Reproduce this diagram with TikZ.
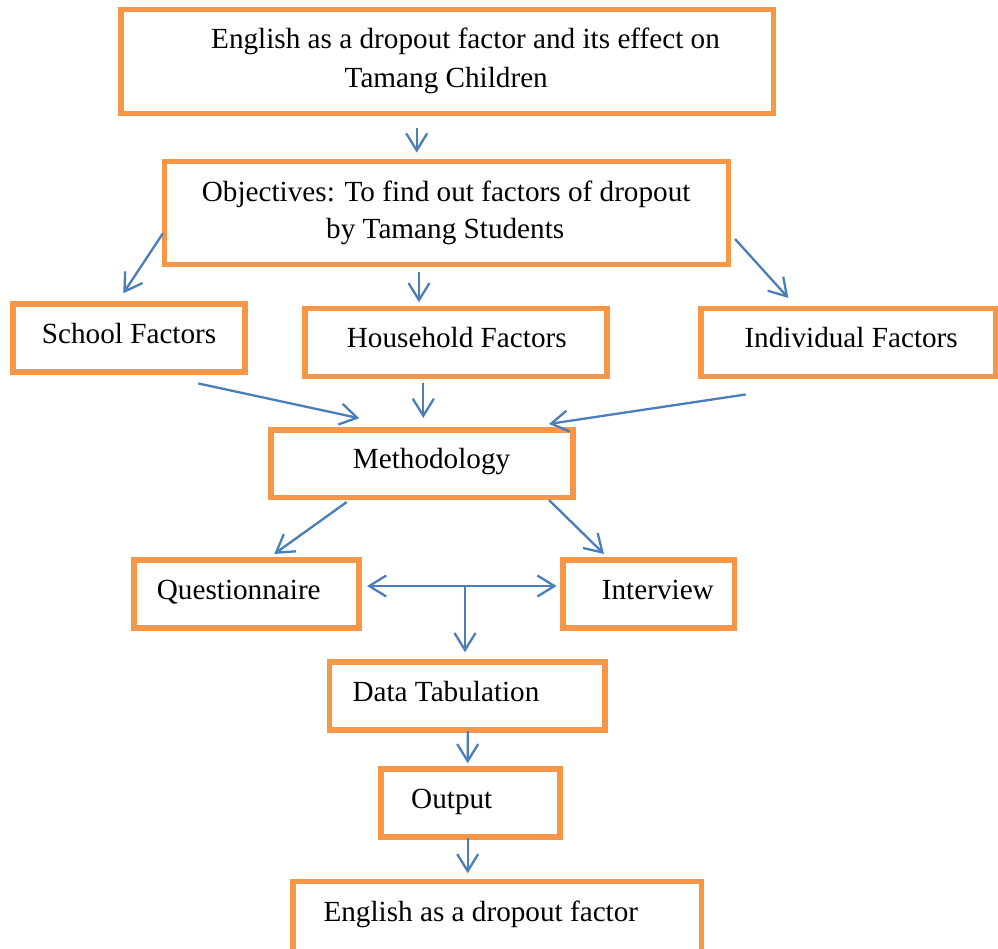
\documentclass[tikz,border=0pt]{standalone}
\usepackage{fontspec}
\setmainfont{Liberation Serif}
\usetikzlibrary{arrows.meta}
\definecolor{boxorange}{HTML}{F79646}
\definecolor{arrblue}{HTML}{4A7EBB}
\tikzset{
  box/.style={draw=boxorange, line width=5.5pt, rectangle, inner sep=0pt, fill=white},
  txt/.style={anchor=base west, inner sep=0pt, font=\fontsize{29.2}{35}\selectfont, text=black},
  arr/.style={draw=arrblue, line width=2.3pt, -{Straight Barb[length=17pt,width=21pt]}},
  darr/.style={draw=arrblue, line width=2.3pt, {Straight Barb[length=17pt,width=21pt]}-{Straight Barb[length=17pt,width=21pt]}}
}
\begin{document}
\begin{tikzpicture}[x=1pt,y=-1pt]
\clip (0,0) rectangle (998,948);
\fill[white] (0,0) rectangle (998,948);
% boxes
\node[box, minimum width=652.5pt, minimum height=104pt] (b1) at (447.25,61.5) {};
\node[box, minimum width=563.8pt, minimum height=103pt] (b2) at (446.4,213) {};
\node[box, minimum width=232pt, minimum height=68pt] (b3) at (129,338) {};
\node[box, minimum width=302pt, minimum height=68pt] (b4) at (456,342.5) {};
\node[box, minimum width=294.7pt, minimum height=68pt] (b5) at (848.35,342.5) {};
\node[box, minimum width=302pt, minimum height=67.5pt] (b6) at (422,463.75) {};
\node[box, minimum width=225pt, minimum height=68pt] (b7) at (246.5,594) {};
\node[box, minimum width=171.5pt, minimum height=68pt] (b8) at (648.75,594) {};
\node[box, minimum width=275.3pt, minimum height=68pt] (b9) at (467.35,696) {};
\node[box, minimum width=179pt, minimum height=68pt] (b10) at (470.5,803) {};
\node[box, minimum width=408.5pt, minimum height=70.5pt] (b11) at (497.25,916.75) {};
% texts
\node[txt] (t1a) at (211,48.3) {English as a dropout factor and its effect on};
\node[txt] (t1b) at (344.5,87.3) {Tamang Children};
\node[txt] (t2a) at (201.7,201.7) {Objectives: To find out factors of dropout};
\node[txt] (t2b) at (326,238.3) {by Tamang Students};
\node[txt] (t3) at (41.7,343.3) {School Factors};
\node[txt] (t4) at (346.7,347.3) {Household Factors};
\node[txt] (t5) at (744.3,347.3) {Individual Factors};
\node[txt] (t6) at (352.7,468.3) {Methodology};
\node[txt] (t7) at (156.7,599.3) {Questionnaire};
\node[txt] (t8) at (601.7,599.3) {Interview};
\node[txt] (t9) at (352.3,701) {Data Tabulation};
\node[txt] (t10) at (411,808.3) {Output};
\node[txt] (t11) at (323.3,921) {English as a dropout factor};
% arrows
\draw[arr] ([shift={(-30.55,12.2)}]b1.south) -- ([shift={(-29.7,-6.2)}]b2.north);
\draw[arr] ([shift={(1.2,20.3)}]b2.west) -- ([shift={(-5.7,-8)}]b3.north);
\draw[arr] ([shift={(-27.4,4.8)}]b2.south) -- ([shift={(-37,-3.5)}]b4.north);
\draw[arr] ([shift={(4,26)}]b2.east) -- ([shift={(-60.05,-7.8)}]b5.north);
\draw[arr] ([shift={(69.3,8.7)}]b3.south) -- ([shift={(-62.7,-9)}]b6.north);
\draw[arr] ([shift={(-32.7,3.5)}]b4.south) -- ([shift={(1.3,-9.3)}]b6.north);
\draw[arr] ([shift={(-102.65,15.2)}]b5.south) -- ([shift={(127,-3.3)}]b6.north);
\draw[arr] ([shift={(-75.3,1.8)}]b6.south) -- ([shift={(27.8,-3.3)}]b7.north);
\draw[arr] ([shift={(127,-0.2)}]b6.south) -- ([shift={(-44.75,-3.3)}]b8.north);
\coordinate (j) at (465,586);
\draw[darr] ([shift={(5.3,-8)}]b7.east) -- ([shift={(-3.7,-8)}]b8.west);
\draw[arr] (j) -- ([shift={(-2.35,-7)}]b9.north);
\draw[arr] ([shift={(0.35,-1.7)}]b9.south) -- ([shift={(-2.8,-3)}]b10.north);
\draw[arr] ([shift={(-2.8,-2)}]b10.south) -- ([shift={(-29.55,-5.5)}]b11.north);
\end{tikzpicture}
\end{document}
